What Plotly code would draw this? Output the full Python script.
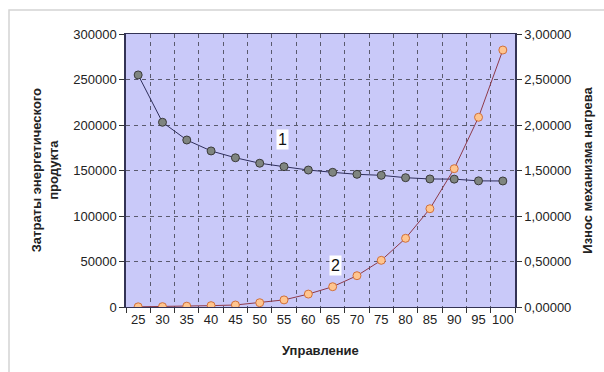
import plotly.graph_objects as go

# Control parameter (x), energy cost (left axis) and heater wear (right axis)
categories = ["25", "30", "35", "40", "45", "50", "55", "60",
              "65", "70", "75", "80", "85", "90", "95", "100"]
energy_cost = [255000, 203000, 183500, 171500, 164000, 158000, 154200, 150500,
               148000, 145800, 144700, 142100, 140700, 140500, 138600, 138500]
heater_wear = [0.002, 0.004, 0.009, 0.015, 0.022, 0.047, 0.078, 0.142,
               0.223, 0.344, 0.513, 0.755, 1.080, 1.520, 2.085, 2.824]

left_ticks = [0, 50000, 100000, 150000, 200000, 250000, 300000]
right_ticks = [0, 0.5, 1.0, 1.5, 2.0, 2.5, 3.0]
right_labels = [f"{v:.5f}".replace(".", ",") for v in right_ticks]

FONT = "Liberation Sans, Arial, sans-serif"
GRID = dict(showgrid=True, gridcolor="#5A5A6E", griddash="4px,4px", gridwidth=1)

fig = go.Figure()
fig.add_trace(go.Scatter(
    x=categories, y=energy_cost, mode="lines+markers", yaxis="y",
    line=dict(color="#2E2E5C", width=1),
    marker=dict(size=8, color="#7F8580", line=dict(color="#3A3A3A", width=1)),
    showlegend=False,
))
fig.add_trace(go.Scatter(
    x=categories, y=heater_wear, mode="lines+markers", yaxis="y2",
    line=dict(color="#8E3A4A", width=1),
    marker=dict(size=8, color="#FFC58F", line=dict(color="#D0703A", width=1)),
    showlegend=False,
))

fig.update_layout(
    width=604, height=372,
    margin=dict(l=126, r=89, t=34, b=65),
    paper_bgcolor="white",
    plot_bgcolor="#C9C9F9",
    font=dict(family=FONT, size=13, color="#222222"),
    xaxis=dict(
        type="category", tickson="boundaries", tickangle=0,
        ticks="outside", ticklen=5, tickcolor="#333333",
        showline=True, linecolor="#333355", linewidth=1, mirror=True,
        tickfont=dict(size=13, color="#222222"),
        range=[-0.5, 15.5], **GRID,
    ),
    yaxis=dict(
        range=[0, 300000], tickvals=left_ticks,
        ticktext=[str(v) for v in left_ticks],
        zeroline=False,
        ticks="outside", ticklen=5, tickcolor="#333333",
        showline=True, linecolor="#333355", linewidth=1.5,
        tickfont=dict(size=13, color="#222222"), **GRID,
    ),
    yaxis2=dict(
        range=[0, 3], tickvals=right_ticks, ticktext=right_labels,
        overlaying="y", side="right", showgrid=False, zeroline=False,
        ticks="outside", ticklen=5, tickcolor="#333333",
        showline=True, linecolor="#333355", linewidth=1.5,
        tickfont=dict(size=13, color="#222222"),
    ),
)

# axis titles
fig.add_annotation(text="<b>Управление</b>", xref="paper", yref="paper",
                   x=0.5, y=-0.125, yanchor="top", showarrow=False,
                   font=dict(size=13, color="#222222"))
fig.add_annotation(text="<b>Затраты энергетического<br>продукта</b>",
                   xref="paper", yref="paper", x=-0.255, y=0.5,
                   textangle=-90, showarrow=False,
                   font=dict(size=13, color="#222222"))
fig.add_annotation(text="<b>Износ механизма нагрева</b>",
                   xref="paper", yref="paper", x=1.21, y=0.5,
                   textangle=-90, showarrow=False,
                   font=dict(size=13, color="#222222"))

# series labels
fig.add_annotation(text="1", x=5.95, y=184500, xref="x", yref="y",
                   showarrow=False, bgcolor="white",
                   font=dict(size=16, color="#111111"), borderpad=1)
fig.add_annotation(text="2", x=8.1, y=46000, xref="x", yref="y",
                   showarrow=False, bgcolor="white",
                   font=dict(size=16, color="#111111"), borderpad=1)

# light outer frame
fig.add_shape(type="rect", xref="paper", yref="paper",
              x0=(9 - 126) / 389, x1=1 + (620 - 515) / 389,
              y0=-(400 - 307) / 273, y1=1 + (34 - 10) / 273,
              line=dict(color="#D4D4D4", width=1.5), layer="below")

fig.write_html("out.html")
